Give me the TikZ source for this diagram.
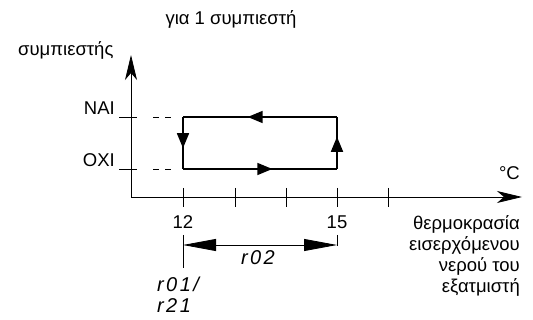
\documentclass[tikz,border=0pt]{standalone}
\usepackage{fontspec}
\setmainfont{Liberation Sans}
\newfontfamily\segfont[LetterSpace=12]{Liberation Sans}
\usetikzlibrary{positioning,arrows.meta,decorations.markings}
\tikzset{
  axis/.style={-{Stealth[length=25pt,width=12pt,inset=7pt]}, line width=0.8pt},
  cyc/.style={line width=1.6pt},
  tck/.style={line width=0.8pt},
  dsh/.style={line width=0.8pt, dash pattern=on 6pt off 6pt},
  dim/.style={{Triangle[length=33pt,width=12pt]}-{Triangle[length=33pt,width=12pt]}, line width=0.8pt},
  midarr/.style={postaction={decorate}, decoration={markings,
      mark=at position #1 with {\arrow{Triangle[length=15pt,width=12pt]}}}},
  lbl/.style={font=\fontsize{18.5}{21}\selectfont, inner sep=0pt},
  seg/.style={font=\segfont\fontsize{20}{21}\selectfont\itshape, inner sep=0pt},
}
\begin{document}
\begin{tikzpicture}[x=1pt,y=-1pt]
  \useasboundingbox (0,0) rectangle (533,320);
  % axes
  \coordinate (O) at (131,197);
  \coordinate (ytop) at (131,55);
  \coordinate (xend) at (522,197);
  \draw[axis] (O) -- (ytop);
  \draw[axis] (O) -- (xend);
  % on / off levels
  \coordinate (nai0) at (119,117);  \coordinate (nai1) at (137,117);
  \coordinate (oxi0) at (119,169);  \coordinate (oxi1) at (137,169);
  \draw[tck] (nai0) -- (nai1);
  \draw[tck] (oxi0) -- (oxi1);
  \coordinate (naid) at (153,117);  \coordinate (naie) at (171,117);
  \coordinate (oxid) at (153,169);  \coordinate (oxie) at (171,169);
  \draw[dsh] (naid) -- (naie);
  \draw[dsh] (oxid) -- (oxie);
  % hysteresis loop
  \coordinate (nw) at (183,117);  \coordinate (ne) at (337,117);
  \coordinate (sw) at (183,169);  \coordinate (se) at (337,169);
  \draw[cyc, midarr=0.58] (sw) -- (se);
  \draw[cyc, midarr=0.62] (se) -- (ne);
  \draw[cyc, midarr=0.58] (ne) -- (nw);
  \draw[cyc, midarr=0.6] (nw) -- (sw);
  % temperature ticks
  \foreach \tx in {183,235,286,337,388}
    \draw[tck] (\tx,188) -- (\tx,207);
  % differential
  \coordinate (d0) at (183,235);  \coordinate (d1) at (183,268);
  \coordinate (e0) at (337,235);  \coordinate (e1) at (337,246);
  \coordinate (da) at (183,245);  \coordinate (db) at (337,245);
  \draw[tck] (d0) -- (d1);
  \draw[tck] (e0) -- (e1);
  \draw[dim] (da) -- (db);
  % labels
  \node[lbl, anchor=base] (title) at (231,25) {για 1 συμπιεστή};
  \node[lbl, anchor=base west] (ylab) at (18,56) {συμπιεστής};
  \node[lbl, anchor=base east] (nai) at (115,115) {NAI};
  \node[lbl, anchor=base east] (oxi) at (115,167) {OXI};
  \node[lbl, anchor=base] (t12) at (183,229) {12};
  \node[lbl, anchor=base] (t15) at (337,229) {15};
  \node[lbl, anchor=base east] (unit) at (520,180) {°C};
  \node[lbl, anchor=north east, align=right] (xlab) at (520,215)
    {θερμοκρασία\\εισερχόμενου\\νερού του\\εξατμιστή};
  \node[seg] (r02) at (258,258) {r02};
  \node[seg, anchor=base west] (r01) at (157,292) {r01/};
  \node[seg, anchor=base west] (r21) at (157,313) {r21};
\end{tikzpicture}
\end{document}
